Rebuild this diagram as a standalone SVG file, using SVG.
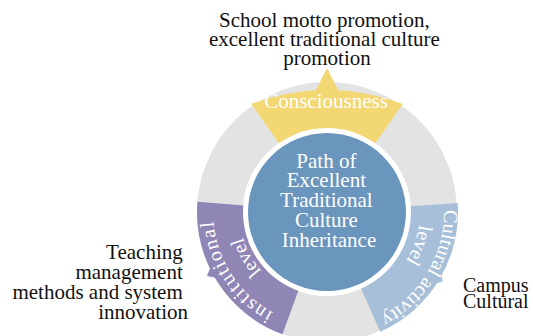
<svg xmlns="http://www.w3.org/2000/svg" width="533" height="336" viewBox="0 0 533 336">
<style>
.lbl{font-family:"Liberation Serif","Times New Roman",serif;font-size:21px;fill:#111}
.wt{font-family:"Liberation Serif","Times New Roman",serif;fill:#fff}
.seg{stroke:none}
</style>
<defs>
<path id="pCult1" d="M 443.4 199.8 A 117 117 0 0 1 337.2 328.6"/>
<path id="pCult2" d="M 419.5 202.3 A 93 93 0 0 1 335.1 304.6"/>
<path id="pInst1" d="M 297.5 322.1 A 114 114 0 0 1 216.9 182.5"/>
<path id="pInst2" d="M 304.2 297.0 A 88 88 0 0 1 242.0 189.2"/>
</defs>
<rect width="533" height="336" fill="#fff"/>
<g id="ring">
<circle cx="327" cy="212" r="107" fill="none" stroke="#e3e3e3" stroke-width="46"/>
</g>
<g id="node-consciousness">
<path class="seg" fill="#f2d772" d="M 251.3 103.9 A 213 213 0 0 1 402.7 103.9 L 372.9 146.5 A 80 80 0 0 0 281.1 146.5 Z"/>
<polygon fill="#f2d772" points="315,92 327,68 339,92"/>
<text class="wt" x="326" y="108" font-size="21" text-anchor="middle">Consciousness</text>
</g>
<g id="node-cultural">
<path class="seg" fill="#a7bfd8" d="M 457.7 202.9 A 131 131 0 0 1 380.3 331.7 L 359.5 285.1 A 80 80 0 0 0 406.8 206.4 Z"/>
<polygon fill="#a7bfd8" points="440.9,272.6 442.7,281.5 433.9,284.1"/>
<text class="wt" font-size="20"><textPath href="#pCult1" startOffset="10">Cultural activity</textPath></text>
<text class="wt" font-size="20" text-anchor="middle"><textPath href="#pCult2" startOffset="42">level</textPath></text>
</g>
<g id="node-institutional">
<path class="seg" fill="#9086b6" d="M 197.4 201.8 A 130 130 0 0 0 282.5 334.2 L 299.6 287.2 A 80 80 0 0 1 247.2 205.7 Z"/>
<polygon fill="#9086b6" points="217.3,277.9 206.9,275.9 211.0,266.1"/>
<text class="wt" font-size="20" letter-spacing="1.5"><textPath href="#pInst1" startOffset="26">institutional</textPath></text>
<text class="wt" font-size="20" text-anchor="middle"><textPath href="#pInst2" startOffset="70">level</textPath></text>
</g>
<g id="node-center">
<circle cx="327" cy="212" r="84" fill="#fff"/>
<circle cx="327" cy="212" r="79" fill="#6a95bd"/>
<text class="wt" font-size="21" text-anchor="middle">
<tspan x="329" y="167.5">Path of</tspan>
<tspan x="329" y="187.3">Excellent</tspan>
<tspan x="329" y="207.1">Traditional</tspan>
<tspan x="329" y="226.9">Culture</tspan>
<tspan x="329" y="246.7">Inheritance</tspan>
</text>
</g>
<g id="label-top">
<text class="lbl" text-anchor="middle">
<tspan x="327" y="27">School motto promotion,</tspan>
<tspan x="327" y="46">excellent traditional culture</tspan>
<tspan x="327" y="65">promotion</tspan>
</text>
</g>
<g id="label-left">
<text class="lbl" text-anchor="end">
<tspan x="188" y="258.5">Teaching</tspan>
<tspan x="188" y="278.5">management</tspan>
<tspan x="188" y="298.5">methods and system</tspan>
<tspan x="188" y="318.5">innovation</tspan>
</text>
</g>
<g id="label-right">
<text class="lbl" style="font-size:20px">
<tspan x="463" y="292">Campus</tspan>
<tspan x="463" y="308">Cultural</tspan>
</text>
</g>
</svg>
